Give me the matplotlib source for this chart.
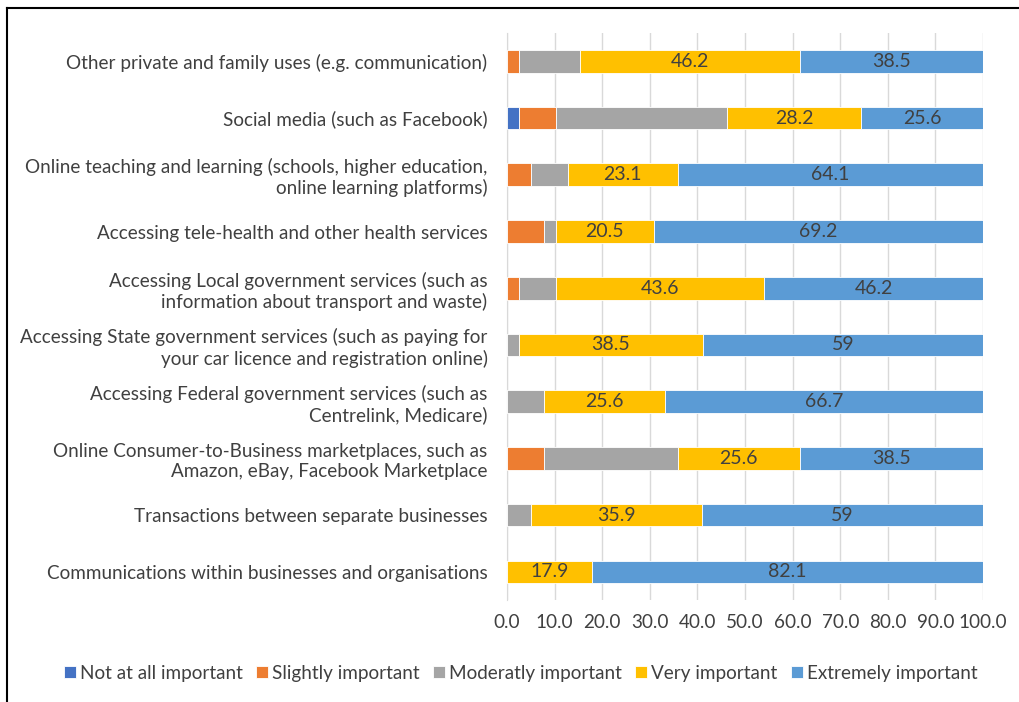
import numpy as np
import matplotlib.pyplot as plt
from matplotlib.lines import Line2D

plt.rcParams['font.family'] = ['Lato', 'DejaVu Sans']

# Survey categories, bottom to top as drawn
categories = [
    "Communications within businesses and organisations",
    "Transactions between separate businesses",
    "Online Consumer-to-Business marketplaces, such as\nAmazon, eBay, Facebook Marketplace",
    "Accessing Federal government services (such as\nCentrelink, Medicare)",
    "Accessing State government services (such as paying for\nyour car licence and registration online)",
    "Accessing Local government services (such as\ninformation about transport and waste)",
    "Accessing tele-health and other health services",
    "Online teaching and learning (schools, higher education,\nonline learning platforms)",
    "Social media (such as Facebook)",
    "Other private and family uses (e.g. communication)",
]

not_at_all = [0, 0, 0, 0, 0, 0, 0, 0, 2.6, 0]
slightly = [0, 0, 7.7, 0, 0, 2.6, 7.7, 5.1, 7.7, 2.6]
moderately = [0, 5.1, 28.2, 7.7, 2.6, 7.7, 2.6, 7.7, 35.9, 12.8]
very = [17.9, 35.9, 25.6, 25.6, 38.5, 43.6, 20.5, 23.1, 28.2, 46.2]
extremely = [82.1, 59, 38.5, 66.7, 59, 46.2, 69.2, 64.1, 25.6, 38.5]

series_names = ["Not at all important", "Slightly important", "Moderatly important",
                "Very important", "Extremely important"]
series = [not_at_all, slightly, moderately, very, extremely]
colors = ["#4472C4", "#ED7D31", "#A5A5A5", "#FFC000", "#5B9BD5"]
labelled = [False, False, False, True, True]

text_col = "#404040"

fig = plt.figure(figsize=(10.19, 7.02), dpi=100)
ax = fig.add_axes([0.4975, 0.145, 0.4672, 0.808])

y = np.arange(len(categories))
left = np.zeros(len(categories))
for name, vals, col, lab in zip(series_names, series, colors, labelled):
    vals = np.array(vals, dtype=float)
    bars = ax.barh(y, vals, left=left, height=0.4, color=col, label=name,
                   edgecolor="white", linewidth=0.6, zorder=3)
    if lab:
        for b, v in zip(bars, vals):
            if v > 0:
                ax.text(b.get_x() + b.get_width() / 2, b.get_y() + b.get_height() / 2,
                        f"{v:g}", ha="center", va="center", fontsize=14,
                        color=text_col, zorder=4)
    left += vals

ax.set_xlim(0, 100)
ax.set_ylim(-0.5, len(categories) - 0.5)
ax.set_xticks(np.arange(0, 101, 10))
ax.set_xticklabels([f"{t:.1f}" for t in np.arange(0, 101, 10)])
ax.set_yticks(y)
ax.set_yticklabels(categories, ha="right")
ax.tick_params(axis="both", length=0, labelsize=13.6, colors=text_col)
ax.tick_params(axis="y", pad=14)
ax.tick_params(axis="x", pad=10)
ax.xaxis.grid(True, color="#D9D9D9", linewidth=1, zorder=0)
for s in ["top", "right", "bottom"]:
    ax.spines[s].set_visible(False)
ax.spines["left"].set_color("#D9D9D9")

leg = fig.legend(loc="center", bbox_to_anchor=(0.511, 0.041), ncol=5, frameon=False,
                 fontsize=13.6, handlelength=0.65, handleheight=0.65, handletextpad=0.2,
                 columnspacing=0.7, labelcolor=text_col)

# outer frame: left and top edges only
fig.add_artist(Line2D([0.0065, 0.0065], [0.0, 0.989], transform=fig.transFigure,
                      color="black", linewidth=1.5))
fig.add_artist(Line2D([0.0065, 1.0], [0.989, 0.989], transform=fig.transFigure,
                      color="black", linewidth=1.5))

fig.savefig("out.png", dpi=100)
